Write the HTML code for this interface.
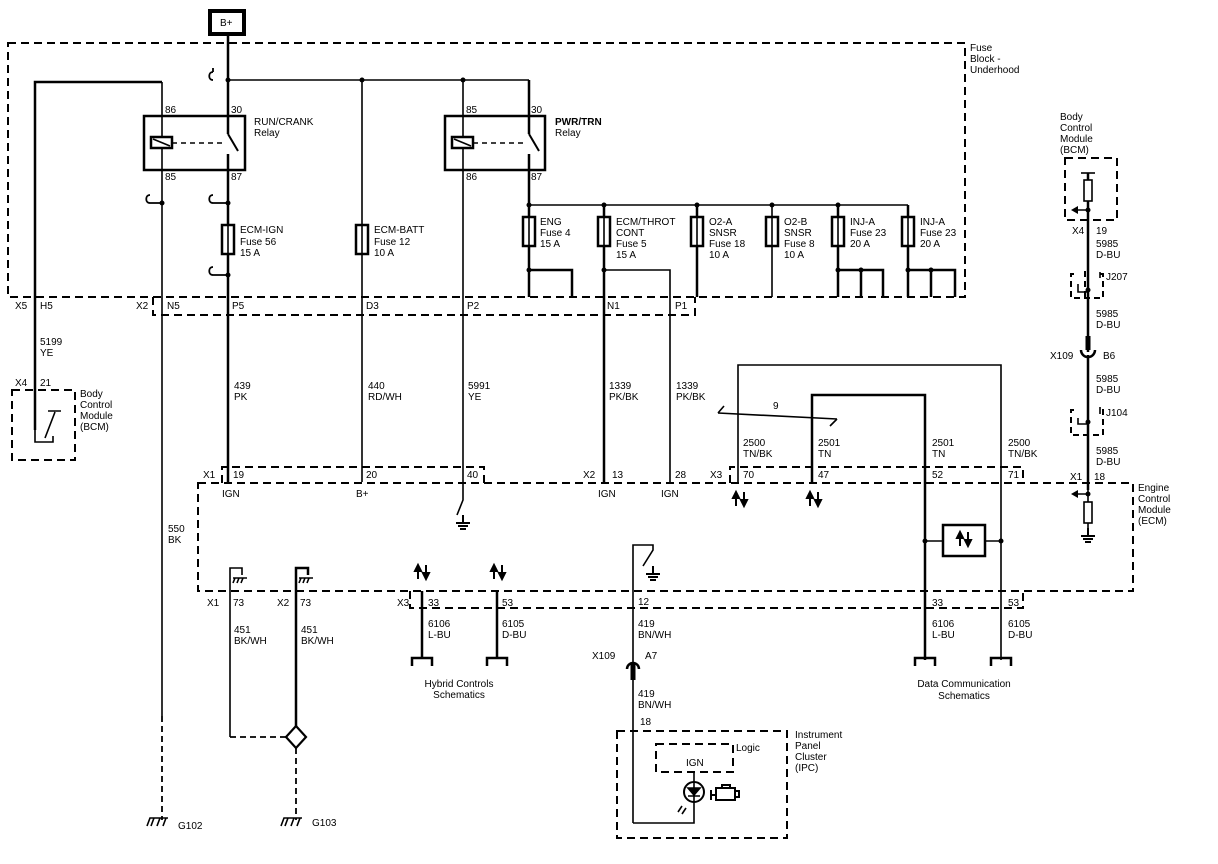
<!DOCTYPE html>
<html><head><meta charset="utf-8"><style>
body{margin:0;background:#fff}
svg{display:block}
text{font-family:"Liberation Sans",sans-serif;font-size:10px;fill:#000}
.w{stroke:#000;stroke-width:2.5;fill:none}
.n{stroke:#000;stroke-width:1.6;fill:none}
.d{stroke:#000;stroke-width:2;fill:none;stroke-dasharray:8,5}
.dd{stroke:#000;stroke-width:1.8;fill:none;stroke-dasharray:6,4}
</style></head><body>
<svg width="1218" height="864" viewBox="0 0 1218 864" xmlns="http://www.w3.org/2000/svg">
<defs>
<g id="bi"><path d="M-4,12V0M-7,4L-4,-2L-1,4Z M4,-2V10M1,6L4,12L7,6Z" stroke="#000" stroke-width="2" fill="#000"/></g>
<g id="gnd"><path d="M0,0V8M-7,8H7M-5,11H5M-3,14H3" stroke="#000" stroke-width="2" fill="none"/></g>
<g id="chs"><path d="M-7,6H7M-5,6L-7,11M-1,6L-3,11M3,6L1,11" stroke="#000" stroke-width="1.6" fill="none"/></g>
<g id="plug"><path d="M-10,8V0H10V8" stroke="#000" stroke-width="2.5" fill="none"/></g>
<g id="fuse"><rect x="-6" y="0" width="12" height="29" stroke="#000" stroke-width="2.5" fill="#fff"/><path d="M0,0V29" stroke="#000" stroke-width="1.6"/></g>
</defs>

<rect x="210" y="11" width="34" height="23" stroke="#000" stroke-width="4" fill="#fff"/>
<text x="220" y="26">B+</text>

<path class="d" d="M8,43H965V297H8Z"/>
<text x="970" y="51">Fuse</text><text x="970" y="62">Block -</text><text x="970" y="73">Underhood</text>
<path class="d" d="M153,297V315H695V297"/>

<path class="w" d="M228,34V482"/>
<path class="n" d="M228,80H529"/>
<circle cx="228" cy="80" r="2.5"/><circle cx="362" cy="80" r="2.5"/><circle cx="463" cy="80" r="2.5"/>
<path class="w" d="M35,430V82H162"/>
<path class="n" d="M162,82V716"/>
<path class="dd" d="M162,716V820"/>
<path class="n" d="M362,80V482"/>
<path class="n" d="M463,80V482"/>
<path class="n" d="M529,80V116"/>
<path d="M213,72c-5,0-5,8 0,8M213,72v-4" stroke="#000" stroke-width="1.8" fill="none"/>
<path d="M150,195c-5,0-5,8 0,8H162M213,195c-5,0-5,8 0,8H228M213,267c-5,0-5,8 0,8H228" stroke="#000" stroke-width="1.8" fill="none"/>
<circle cx="162" cy="203" r="2.5"/><circle cx="228" cy="203" r="2.5"/><circle cx="228" cy="275" r="2.5"/>

<rect x="144" y="116" width="101" height="54" stroke="#000" stroke-width="2.5" fill="none"/>
<rect x="151" y="137" width="21" height="11" stroke="#000" stroke-width="2.5" fill="#fff"/>
<path class="n" d="M153,139L170,146"/>
<path d="M172,143H225" stroke="#000" stroke-width="1.6" stroke-dasharray="5,4"/>
<rect x="224" y="134" width="8" height="20" fill="#fff"/>
<path d="M228,134L238,151" stroke="#000" stroke-width="2"/>
<text x="165" y="113">86</text><text x="231" y="113">30</text><text x="165" y="180">85</text><text x="231" y="180">87</text>
<text x="254" y="125">RUN/CRANK</text><text x="254" y="136">Relay</text>
<rect x="445" y="116" width="100" height="54" stroke="#000" stroke-width="2.5" fill="none"/>
<rect x="452" y="137" width="21" height="11" stroke="#000" stroke-width="2.5" fill="#fff"/>
<path class="n" d="M454,139L471,146"/>
<path d="M473,143H526" stroke="#000" stroke-width="1.6" stroke-dasharray="5,4"/>
<rect x="524" y="134" width="9" height="20" fill="#fff"/>
<path d="M529,134L539,151" stroke="#000" stroke-width="2"/>
<path class="w" d="M529,80V134M529,154V297"/>
<text x="466" y="113">85</text><text x="531" y="113">30</text><text x="466" y="180">86</text><text x="531" y="180">87</text>
<text x="555" y="125" style="font-weight:bold">PWR/TRN</text><text x="555" y="136">Relay</text>

<use href="#fuse" x="228" y="225"/>
<text x="240" y="233">ECM-IGN</text><text x="240" y="245">Fuse 56</text><text x="240" y="256">15 A</text>
<use href="#fuse" x="362" y="225"/>
<text x="374" y="233">ECM-BATT</text><text x="374" y="245">Fuse 12</text><text x="374" y="256">10 A</text>

<path class="n" d="M529,205H908"/>
<circle cx="529" cy="205" r="2.5"/><circle cx="604" cy="205" r="2.5"/><circle cx="697" cy="205" r="2.5"/><circle cx="772" cy="205" r="2.5"/><circle cx="838" cy="205" r="2.5"/>
<path class="w" d="M604,205V482"/>
<path class="n" d="M604,270H670V482"/>
<path class="w" d="M697,205V297"/>
<path class="n" d="M772,205V297"/>
<path class="w" d="M838,205V297M838,270H883V297M861,270V297"/>
<path class="w" d="M908,205V297M908,270H955V297M931,270V297"/>
<path class="w" d="M529,270H572V297"/>
<circle cx="529" cy="270" r="2.5"/><circle cx="604" cy="270" r="2.5"/><circle cx="838" cy="270" r="2.5"/><circle cx="861" cy="270" r="2.5"/><circle cx="908" cy="270" r="2.5"/><circle cx="931" cy="270" r="2.5"/>
<use href="#fuse" x="529" y="217"/><use href="#fuse" x="604" y="217"/><use href="#fuse" x="697" y="217"/><use href="#fuse" x="772" y="217"/><use href="#fuse" x="838" y="217"/><use href="#fuse" x="908" y="217"/>
<text x="540" y="225">ENG</text><text x="540" y="236">Fuse 4</text><text x="540" y="247">15 A</text>
<text x="616" y="225">ECM/THROT</text><text x="616" y="236">CONT</text><text x="616" y="247">Fuse 5</text><text x="616" y="258">15 A</text>
<text x="709" y="225">O2-A</text><text x="709" y="236">SNSR</text><text x="709" y="247">Fuse 18</text><text x="709" y="258">10 A</text>
<text x="784" y="225">O2-B</text><text x="784" y="236">SNSR</text><text x="784" y="247">Fuse 8</text><text x="784" y="258">10 A</text>
<text x="850" y="225">INJ-A</text><text x="850" y="236">Fuse 23</text><text x="850" y="247">20 A</text>
<text x="920" y="225">INJ-A</text><text x="920" y="236">Fuse 23</text><text x="920" y="247">20 A</text>

<text x="15" y="309">X5</text><text x="40" y="309">H5</text><text x="136" y="309">X2</text><text x="167" y="309">N5</text>
<text x="232" y="309">P5</text><text x="366" y="309">D3</text><text x="467" y="309">P2</text><text x="607" y="309">N1</text><text x="675" y="309">P1</text>
<text x="40" y="345">5199</text><text x="40" y="356">YE</text>
<text x="234" y="389">439</text><text x="234" y="400">PK</text>
<text x="368" y="389">440</text><text x="368" y="400">RD/WH</text>
<text x="468" y="389">5991</text><text x="468" y="400">YE</text>
<text x="609" y="389">1339</text><text x="609" y="400">PK/BK</text>
<text x="676" y="389">1339</text><text x="676" y="400">PK/BK</text>

<path class="d" d="M12,390H75V460H12Z"/>
<path class="n" d="M35,430V442H53V436M45,438L55,412M48,411H61"/>
<text x="15" y="386">X4</text><text x="40" y="386">21</text>
<text x="80" y="397">Body</text><text x="80" y="408">Control</text><text x="80" y="419">Module</text><text x="80" y="430">(BCM)</text>
<text x="168" y="532">550</text><text x="168" y="543">BK</text>

<path class="d" d="M222,483V467H484V483"/>
<path class="d" d="M198,483H1133V591H198Z"/>
<path class="d" d="M730,483V467H1023V483"/>
<path class="d" d="M410,591V608H1023V591"/>
<text x="203" y="478">X1</text><text x="233" y="478">19</text><text x="366" y="478">20</text><text x="467" y="478">40</text>
<text x="583" y="478">X2</text><text x="612" y="478">13</text><text x="675" y="478">28</text>
<text x="710" y="478">X3</text><text x="743" y="478">70</text><text x="818" y="478">47</text><text x="932" y="478">52</text><text x="1008" y="478">71</text>
<text x="1070" y="480">X1</text><text x="1094" y="480">18</text>
<text x="222" y="497">IGN</text><text x="356" y="497">B+</text><text x="598" y="497">IGN</text><text x="661" y="497">IGN</text>
<path class="n" d="M463,482V500L457,515"/>
<use href="#gnd" x="463" y="515"/>

<path class="n" d="M738,483V365H1001V660"/>
<path class="w" d="M812,483V395H925V660"/>
<path class="n" d="M718,413L837,419M718,413L724,406M837,419L830,426"/>
<text x="773" y="409">9</text>
<text x="743" y="446">2500</text><text x="743" y="457">TN/BK</text>
<text x="818" y="446">2501</text><text x="818" y="457">TN</text>
<text x="932" y="446">2501</text><text x="932" y="457">TN</text>
<text x="1008" y="446">2500</text><text x="1008" y="457">TN/BK</text>
<use href="#bi" x="740" y="494"/><use href="#bi" x="814" y="494"/>
<rect x="943" y="525" width="42" height="31" stroke="#000" stroke-width="2.5" fill="#fff"/>
<use href="#bi" x="964" y="534"/>
<path class="n" d="M925,541H943M985,541H1001"/>
<circle cx="925" cy="541" r="2.5"/><circle cx="1001" cy="541" r="2.5"/>
<text x="1138" y="491">Engine</text><text x="1138" y="502">Control</text><text x="1138" y="513">Module</text><text x="1138" y="524">(ECM)</text>

<path class="n" d="M230,737V568H242V575"/><use href="#chs" x="240" y="572"/>
<path class="w" d="M296,737V568H308V575"/><use href="#chs" x="306" y="572"/>
<path class="dd" d="M230,737H287M296,748V820"/>
<path d="M296,726L306,737L296,748L286,737Z" stroke="#000" stroke-width="2.2" fill="#fff"/>
<text x="207" y="606">X1</text><text x="233" y="606">73</text><text x="277" y="606">X2</text><text x="300" y="606">73</text>
<text x="234" y="633">451</text><text x="234" y="644">BK/WH</text><text x="301" y="633">451</text><text x="301" y="644">BK/WH</text>
<path class="n" d="M147,826L150,818H168M154,818L151,826M160,818L157,826M166,818L163,826"/><text x="178" y="829">G102</text>
<path class="n" d="M281,826L284,818H302M288,818L285,826M294,818L291,826M300,818L297,826"/><text x="312" y="826">G103</text>

<use href="#bi" x="422" y="567"/><use href="#bi" x="498" y="567"/>
<path class="w" d="M422,591V658M497,591V658"/>
<use href="#plug" x="422" y="658"/><use href="#plug" x="497" y="658"/>
<text x="397" y="606">X3</text><text x="428" y="606">33</text><text x="502" y="606">53</text>
<text x="428" y="627">6106</text><text x="428" y="638">L-BU</text><text x="502" y="627">6105</text><text x="502" y="638">D-BU</text>
<text x="459" y="687" text-anchor="middle">Hybrid Controls</text><text x="459" y="698" text-anchor="middle">Schematics</text>
<text x="932" y="606">33</text><text x="1008" y="606">53</text>
<text x="932" y="627">6106</text><text x="932" y="638">L-BU</text><text x="1008" y="627">6105</text><text x="1008" y="638">D-BU</text>
<use href="#plug" x="925" y="658"/><use href="#plug" x="1001" y="658"/>
<text x="964" y="687" text-anchor="middle">Data Communication</text><text x="964" y="699" text-anchor="middle">Schematics</text>

<path class="n" d="M633,823V545H653V550L643,566"/>
<use href="#gnd" x="653" y="566"/>
<text x="638" y="605">12</text>
<text x="638" y="627">419</text><text x="638" y="638">BN/WH</text>
<text x="592" y="659">X109</text><text x="645" y="659">A7</text>
<path d="M627,669a6,6 0 0 1 12,0" stroke="#000" stroke-width="2.5" fill="none"/>
<path d="M633,664V680" stroke="#000" stroke-width="5"/>
<text x="638" y="697">419</text><text x="638" y="708">BN/WH</text>
<text x="640" y="725">18</text>
<path class="d" d="M617,731H787V838H617Z"/>
<path class="d" d="M656,744H733V772H656Z"/>
<text x="736" y="751">Logic</text><text x="686" y="766">IGN</text>
<text x="795" y="738">Instrument</text><text x="795" y="749">Panel</text><text x="795" y="760">Cluster</text><text x="795" y="771">(IPC)</text>
<path class="n" d="M633,823H694V773"/>
<circle cx="694" cy="792" r="10" stroke="#000" stroke-width="2" fill="#fff"/>
<path d="M688,788H700L694,795Z M688,796H700" stroke="#000" stroke-width="1.6" fill="#000"/>
<path class="n" d="M694,782V802M682,806L678,812M686,808L682,814"/>
<path d="M711,790V800M712,795H716M716,788H735V800H716Z M735,791H739V797H735M722,788V785H730V788" stroke="#000" stroke-width="2" fill="none"/>

<path class="d" d="M1065,158H1117V220H1065Z"/>
<text x="1060" y="120">Body</text><text x="1060" y="131">Control</text><text x="1060" y="142">Module</text><text x="1060" y="153">(BCM)</text>
<path class="w" d="M1088,173V352"/>
<path class="n" d="M1081,173H1095"/>
<rect x="1084" y="180" width="8" height="21" stroke="#000" stroke-width="1.6" fill="#fff"/>
<path class="n" d="M1088,201V210H1075"/><path d="M1071,210L1078,206V214Z"/><circle cx="1088" cy="210" r="2.5"/>
<text x="1072" y="234">X4</text><text x="1096" y="234">19</text>
<text x="1096" y="247">5985</text><text x="1096" y="258">D-BU</text>
<path class="d" d="M1074,274H1071V298H1103V274H1100M1085,271V298" style="stroke-dasharray:6,4"/>
<path class="n" d="M1078,284V292H1088"/><circle cx="1088" cy="290" r="2.5"/>
<path class="n" d="M1100,272V278"/>
<text x="1106" y="280">J207</text>
<text x="1096" y="317">5985</text><text x="1096" y="328">D-BU</text>
<path d="M1088,336V350" stroke="#000" stroke-width="5"/>
<path d="M1081,350a7,7 0 0 0 14,0" stroke="#000" stroke-width="2.5" fill="none"/>
<text x="1050" y="359">X109</text><text x="1103" y="359">B6</text>
<path class="w" d="M1088,355V490"/>
<text x="1096" y="382">5985</text><text x="1096" y="393">D-BU</text>
<path class="d" d="M1074,410H1071V435H1103V410H1100" style="stroke-dasharray:6,4"/>
<path class="n" d="M1078,418V424H1088M1100,407V414"/><circle cx="1088" cy="422" r="2.5"/>
<text x="1106" y="416">J104</text>
<text x="1096" y="454">5985</text><text x="1096" y="465">D-BU</text>
<path class="n" d="M1088,490V502M1075,494H1088"/><path d="M1071,494L1078,490V498Z"/><circle cx="1088" cy="494" r="2.5"/>
<rect x="1084" y="502" width="8" height="21" stroke="#000" stroke-width="1.6" fill="#fff"/>
<path class="n" d="M1088,523V530"/><use href="#gnd" x="1088" y="528"/>
</svg>
</body></html>
